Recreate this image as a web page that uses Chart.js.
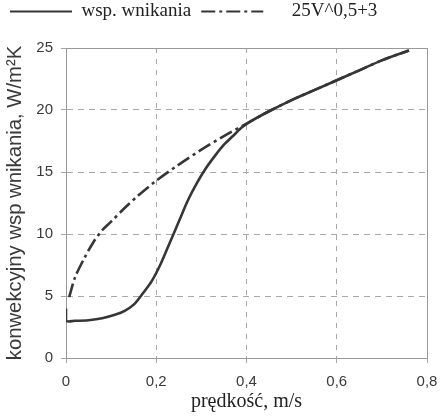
<!DOCTYPE html>
<html>
<head>
<meta charset="utf-8">
<script src="https://cdn.jsdelivr.net/npm/chart.js@4.4.1/dist/chart.umd.min.js"></script>
<style>
  body { margin: 0; background: #fff; }
  #wrap { width: 441px; height: 418px; position: relative; }
</style>
</head>
<body>
<div id="wrap"><canvas id="chart"></canvas></div>
<script>
// dane
const wspV = [0, 0, 0.02, 0.05, 0.08, 0.11, 0.13, 0.15, 0.17, 0.19, 0.21, 0.23, 0.25, 0.27, 0.29, 0.31, 0.33, 0.35, 0.37, 0.39, 0.41, 0.45, 0.50, 0.55, 0.60, 0.65, 0.70, 0.76];
const wspH = [4, 3, 3, 3.05, 3.2, 3.5, 3.8, 4.3, 5.2, 6.2, 7.6, 9.3, 11.0, 12.7, 14.1, 15.3, 16.3, 17.2, 17.9, 18.6, 19.1, 19.9, 20.8, 21.6, 22.4, 23.2, 24.0, 24.8];

const modelV = [0.007, 0.02, 0.04, 0.06, 0.08, 0.10, 0.13, 0.16, 0.20, 0.25, 0.30, 0.35, 0.40, 0.45, 0.50, 0.55, 0.60, 0.65, 0.70, 0.76];
const modelH = [4.9, 6.5, 8.0, 9.3, 10.3, 11.0, 12.1, 13.1, 14.3, 15.6, 16.8, 17.9, 18.9, 19.9, 20.8, 21.6, 22.4, 23.2, 24.0, 24.8];

const xTickLabels = ['0', '0,2', '0,4', '0,6', '0,8'];
const yTickLabels = ['0', '5', '10', '15', '20', '25'];

const lineColor = '#363636';
const gridColor = '#a8a8a8';
const textColor = '#3a3a3a';

function toPoints(xs, ys) {
    return xs.map((x, i) => ({ x: x, y: ys[i] }));
}

// legenda z kreską zamiast prostokąta
function legendLabels(chart) {
    return chart.data.datasets.map((ds, i) => ({
        text: ds.label,
        fillStyle: ds.borderColor,
        strokeStyle: ds.borderColor,
        fontColor: '#222',
        lineWidth: 2.2,
        lineDash: ds.borderDash || [],
        lineDashOffset: 0,
        pointStyle: 'line',
        hidden: false,
        datasetIndex: i
    }));
}

const ctx = document.getElementById('chart').getContext('2d');
new Chart(ctx, {
    type: 'scatter',
    data: {
        datasets: [{
            label: 'wsp. wnikania',
            data: toPoints(wspV, wspH),
            showLine: true,
            borderColor: lineColor,
            backgroundColor: lineColor,
            borderWidth: 2.6,
            pointRadius: 0,
            tension: 0.3
        }, {
            label: '    25V^0,5+3',
            data: toPoints(modelV, modelH),
            showLine: true,
            borderColor: lineColor,
            backgroundColor: lineColor,
            borderWidth: 2.6,
            borderDash: [14, 4, 3, 4],
            pointRadius: 0,
            tension: 0.3
        }]
    },
    options: {
        responsive: true,
        maintainAspectRatio: false,
        animation: false,
        layout: { padding: { left: 0, right: 14, top: -8, bottom: 0 } },
        plugins: {
            tooltip: { enabled: false },
            legend: {
                align: 'start',
                labels: {
                    usePointStyle: true,
                    pointStyle: 'line',
                    pointStyleWidth: 62,
                    padding: 10,
                    color: '#222',
                    font: { family: 'Liberation Serif', size: 19 },
                    generateLabels: legendLabels
                }
            }
        },
        scales: {
            x: {
                type: 'linear',
                min: 0, max: 0.8,
                afterFit: s => { s.height = 60; s.paddingRight = 10; s.paddingLeft = 0; },
                ticks: {
                    stepSize: 0.2,
                    padding: 10,
                    color: textColor,
                    font: { family: 'Liberation Sans', size: 15 },
                    callback: (v, i) => xTickLabels[i]
                },
                grid: { color: gridColor, tickLength: 5, tickColor: gridColor },
                border: { color: '#999', dash: [5, 6] },
                title: {
                    display: true,
                    text: 'prędkość, m/s',
                    color: '#222',
                    padding: { top: 0, bottom: 4 },
                    font: { family: 'Liberation Serif', size: 20 }
                }
            },
            y: {
                type: 'linear',
                min: 0, max: 25,
                afterFit: s => { s.width = 66; },
                ticks: {
                    stepSize: 5,
                    padding: 8,
                    color: textColor,
                    font: { family: 'Liberation Sans', size: 15 },
                    callback: (v, i) => yTickLabels[i]
                },
                grid: { color: gridColor, tickLength: 5, tickColor: gridColor },
                border: { color: '#999', dash: [6, 5] },
                title: {
                    display: true,
                    text: 'konwekcyjny wsp wnikania, W/m²K',
                    color: textColor,
                    padding: { top: 3, bottom: 0 },
                    font: { family: 'Liberation Sans', size: 20.3 }
                }
            },
            x2: {
                type: 'linear', position: 'top', min: 0, max: 0.8,
                afterFit: s => { s.height = 17; },
                ticks: { display: false },
                grid: { display: false },
                border: { display: true, color: '#999' }
            },
            y2: {
                type: 'linear', position: 'right', min: 0, max: 25,
                afterFit: s => { s.width = 0; },
                ticks: { display: false },
                grid: { display: false },
                border: { display: true, color: '#999' }
            }
        }
    }
});
</script>
</body>
</html>
